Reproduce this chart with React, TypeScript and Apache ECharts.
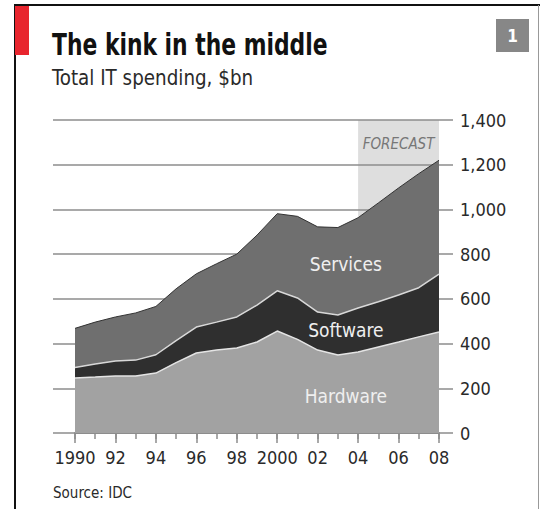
import React, { useEffect, useRef } from "react";
import * as echarts from "echarts";

const years = ["1990","1991","1992","1993","1994","1995","1996","1997","1998","1999","2000","2001","2002","2003","2004","2005","2006","2007","2008"];
const hardware = [246, 250, 255, 255, 268, 315, 358, 371, 380, 407, 456, 419, 371, 349, 362, 385, 407, 430, 452];
const software = [47, 59, 67, 71, 82, 98, 116, 125, 139, 165, 180, 185, 170, 179, 197, 202, 210, 220, 259];
const services = [175, 187, 197, 211, 216, 232, 238, 261, 281, 313, 345, 365, 381, 391, 404, 442, 479, 510, 509];
const yTicks = [0, 200, 400, 600, 800, 1000, 1200, 1400];
const forecastRange = ["2004", "2008"];
const seriesLabels = [
  { name: "Services", year: "2003", value: 756 },
  { name: "Software", year: "2003", value: 461 },
  { name: "Hardware", year: "2003", value: 167 },
];

const FONT = "'DejaVu Sans Condensed', 'DejaVu Sans', sans-serif";
const GRID_COLOR = "#8c8c8c";

export default function App() {
  const ref = useRef<HTMLDivElement>(null);
  useEffect(() => {
    if (!ref.current) return;
    const chart = echarts.init(ref.current, undefined, { renderer: "svg" });
    chart.setOption({
      animation: false,
      backgroundColor: "#ffffff",
      textStyle: { fontFamily: FONT },
      graphic: [
        { type: "line", shape: { x1: 14, y1: 5, x2: 540, y2: 5 }, style: { stroke: "#111", lineWidth: 2 } },
        { type: "line", shape: { x1: 15, y1: 4, x2: 15, y2: 509 }, style: { stroke: "#111", lineWidth: 2 } },
        { type: "line", shape: { x1: 538.5, y1: 5, x2: 538.5, y2: 509 }, style: { stroke: "#999", lineWidth: 1 } },
        { type: "rect", shape: { x: 15, y: 6, width: 14, height: 49 }, style: { fill: "#e8252e" } },
        { type: "rect", shape: { x: 496, y: 19, width: 33, height: 33 }, style: { fill: "#878787" } },
        {
          type: "text",
          x: 512.5,
          y: 35.5,
          style: { text: "1", fill: "#fff", font: `bold 17px ${FONT}`, align: "center", verticalAlign: "middle" },
        },
        {
          type: "text",
          x: 52,
          y: 44.5,
          scaleX: 0.81,
          style: { text: "The kink in the middle", fill: "#111", font: `bold 30px ${FONT}`, align: "left", verticalAlign: "middle" },
        },
        {
          type: "text",
          x: 52,
          y: 78,
          scaleX: 0.97,
          style: { text: "Total IT spending, $bn", fill: "#2a2a2a", font: `21px ${FONT}`, align: "left", verticalAlign: "middle" },
        },
        {
          type: "text",
          x: 53,
          y: 493,
          style: { text: "Source: IDC", fill: "#2a2a2a", font: `15px ${FONT}`, align: "left", verticalAlign: "middle" },
        },
      ],
      grid: { left: 75, right: 101, top: 120, bottom: 76 },
      xAxis: [
        {
          type: "category",
          data: years,
          boundaryGap: false,
          position: "bottom",
          axisLine: { show: true, lineStyle: { color: GRID_COLOR, width: 2 } },
          axisTick: { show: true, interval: 0, length: 6, lineStyle: { color: GRID_COLOR, width: 1.5 } },
          axisLabel: {
            interval: 1,
            margin: 15,
            fontSize: 18,
            color: "#2a2a2a",
            fontFamily: FONT,
            formatter: (v: string) => (v === "1990" || v === "2000" ? v : v.slice(2)),
          },
          splitLine: { show: false },
        },
        {
          type: "category",
          data: years,
          boundaryGap: false,
          position: "bottom",
          offset: 0,
          axisLine: { show: false },
          axisTick: { show: true, interval: 1, length: 10, lineStyle: { color: GRID_COLOR, width: 1.5 } },
          axisLabel: { show: false },
          splitLine: { show: false },
        },
      ],
      yAxis: [
        {
          type: "value",
          position: "right",
          min: yTicks[0],
          max: yTicks[yTicks.length - 1],
          interval: 200,
          z: 1.5,
          axisLine: { show: false },
          axisTick: { show: true, length: 14, lineStyle: { color: GRID_COLOR, width: 1.5 } },
          axisLabel: {
            margin: 21,
            fontSize: 18,
            color: "#2a2a2a",
            fontFamily: FONT,
            formatter: (v: number) => v.toLocaleString("en-US"),
          },
          splitLine: { show: true, lineStyle: { color: GRID_COLOR, width: 1.5 } },
        },
        {
          type: "value",
          position: "left",
          min: yTicks[0],
          max: yTicks[yTicks.length - 1],
          interval: 200,
          z: 1.5,
          axisLine: { show: false },
          axisTick: { show: true, length: 22, lineStyle: { color: GRID_COLOR, width: 1.5 } },
          axisLabel: { show: false },
          splitLine: { show: false },
        },
      ],
      series: [
        {
          name: "Hardware",
          type: "line",
          stack: "total",
          data: hardware,
          symbol: "none",
          z: 2,
          lineStyle: { color: "#e4e4e4", width: 1.5 },
          areaStyle: { color: "#a2a2a2", opacity: 1 },
          markArea: {
            z: 1,
            silent: true,
            itemStyle: { color: "#dedede" },
            label: {
              show: true,
              position: "insideTop",
              distance: 16,
              fontStyle: "italic",
              fontSize: 15,
              color: "#777",
              fontFamily: FONT,
            },
            data: [[{ name: "FORECAST", xAxis: forecastRange[0], yAxis: yTicks[yTicks.length - 1] }, { xAxis: forecastRange[1], yAxis: yTicks[0] }]],
          },
          markPoint: {
            z: 5,
            silent: true,
            symbol: "rect",
            symbolSize: 1,
            itemStyle: { color: "transparent" },
            label: {
              show: true,
              position: "inside",
              offset: [8, 0],
              fontSize: 19,
              color: "#efefef",
              fontFamily: FONT,
              formatter: (p: any) => p.name,
            },
            data: seriesLabels.map((l) => ({ name: l.name, coord: [l.year, l.value] })),
          },
        },
        {
          name: "Software",
          type: "line",
          stack: "total",
          data: software,
          symbol: "none",
          z: 2,
          lineStyle: { color: "#d8d8d8", width: 1.5 },
          areaStyle: { color: "#2f2f2f", opacity: 1 },
        },
        {
          name: "Services",
          type: "line",
          stack: "total",
          data: services,
          symbol: "none",
          z: 2,
          lineStyle: { color: "#333", width: 1 },
          areaStyle: { color: "#6f6f6f", opacity: 1 },
        },
      ],
    });
    return () => chart.dispose();
  }, []);
  return (
    <div
      ref={ref}
      style={{ position: "fixed", left: 0, top: 0, width: 540, height: 509, background: "#fff" }}
    />
  );
}
